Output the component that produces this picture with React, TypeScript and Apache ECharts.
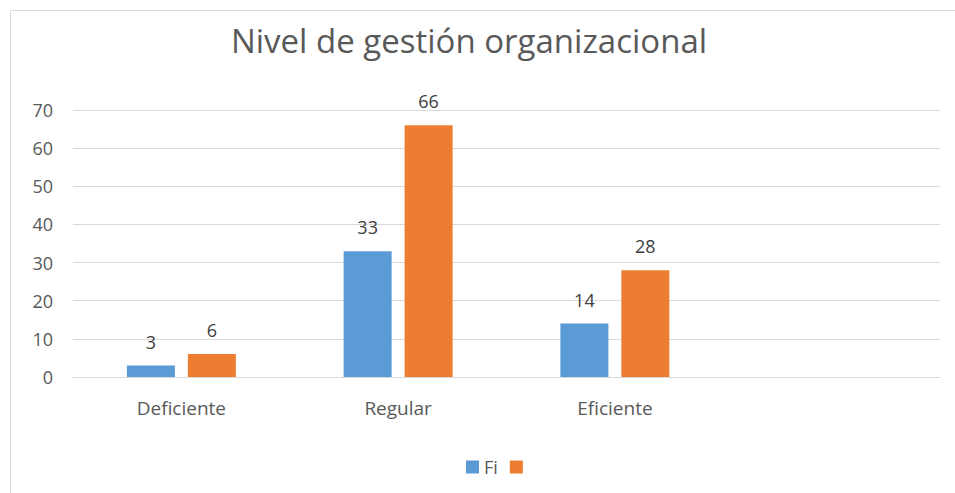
import React, { useEffect, useRef } from "react";
import * as echarts from "echarts";

const categories = ["Deficiente", "Regular", "Eficiente", ""];
const fiValues = [3, 33, 14, null];
const pctValues = [6, 66, 28, null];
const yTicks = { min: 0, max: 70, interval: 10 };

export default function App() {
  const ref = useRef<HTMLDivElement>(null);
  useEffect(() => {
    const chart = echarts.init(ref.current!, null, { renderer: "svg" });
    const font = "'Open Sans', 'Liberation Sans', sans-serif";
    chart.setOption({
      animation: false,
      textStyle: { fontFamily: font },
      title: {
        text: "Nivel de gestión organizacional",
        left: 464,
        top: 19,
        textAlign: "center",
        textStyle: { fontSize: 33, fontWeight: "normal", color: "#595959", fontFamily: font },
      },
      legend: {
        data: [
          { name: "Fi", itemStyle: { color: "#5b9bd5" } },
          { name: " ", itemStyle: { color: "#ed7d31" } },
        ],
        left: 461,
        top: 453,
        itemWidth: 13,
        itemHeight: 13,
        itemGap: 12,
        icon: "rect",
        textStyle: { fontSize: 18, color: "#595959", padding: [0, 0, 0, 0] },
      },
      grid: { left: 73, right: 15, top: 110, bottom: 116, containLabel: false },
      xAxis: {
        type: "category",
        data: categories,
        axisLine: { lineStyle: { color: "#d9d9d9", width: 1 } },
        axisTick: { show: false },
        axisLabel: { fontSize: 19, color: "#595959", margin: 21 },
      },
      yAxis: {
        type: "value",
        min: yTicks.min,
        max: yTicks.max,
        interval: yTicks.interval,
        axisLine: { show: false },
        axisTick: { show: false },
        axisLabel: { fontSize: 18, color: "#595959", margin: 20 },
        splitLine: { lineStyle: { color: "#d9d9d9", width: 1 } },
      },
      series: [
        {
          name: "Fi",
          type: "bar",
          data: fiValues,
          barWidth: 48,
          barGap: "27%",
          itemStyle: { color: "#5b9bd5" },
          label: { show: true, position: "top", distance: 15, fontSize: 18, color: "#404040" },
        },
        {
          name: " ",
          type: "bar",
          data: pctValues,
          barWidth: 48,
          itemStyle: { color: "#ed7d31" },
          label: { show: true, position: "top", distance: 15, fontSize: 18, color: "#404040" },
        },
      ],
      graphic: [
        {
          type: "polyline",
          shape: { points: [[10.5, 493], [10.5, 10.5], [955, 10.5]] },
          style: { stroke: "#d9d9d9", lineWidth: 1, fill: "none" },
          silent: true,
        },
      ],
    });
    return () => chart.dispose();
  }, []);
  return <div ref={ref} style={{ width: 955, height: 493, position: "absolute", left: 0, top: 0 }} />;
}
